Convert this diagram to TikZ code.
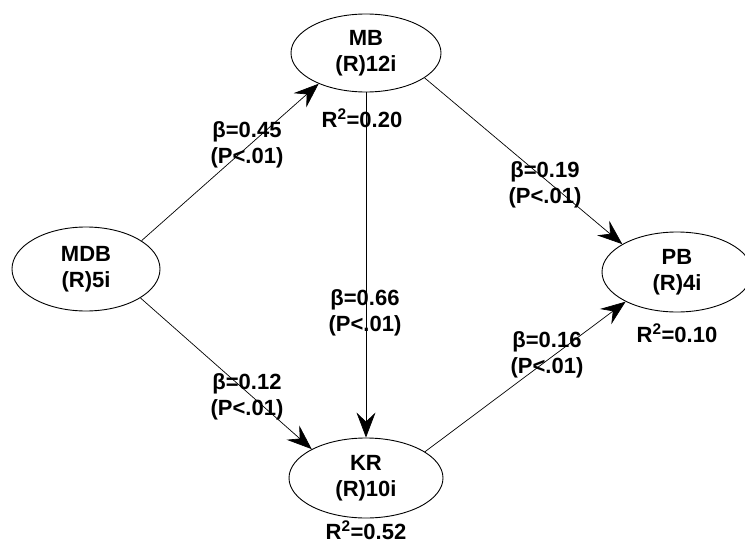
\documentclass[tikz,border=0pt]{standalone}
\usepackage{fontspec}
\setmainfont{Liberation Sans}
\usepackage{tikz}
\usetikzlibrary{shapes.geometric,arrows.meta}

\begin{document}
\begin{tikzpicture}[x=1pt,y=-1pt,
    latent/.style={draw=black, ellipse, solid, line width=0.9pt, minimum width=150pt, minimum height=80pt, inner sep=0pt, align=center, font=\bfseries\fontsize{22}{26}\selectfont},
    coef/.style={align=center, inner sep=0pt, font=\bfseries\fontsize{22}{26}\selectfont},
    link/.style={draw=black, solid, line width=0.7pt, -{Stealth[length=25pt,width=19pt,inset=9pt]}}]
            \useasboundingbox (0,0) rectangle (745,546);

            \node[latent, minimum width=148pt, minimum height=84pt] (mdb) at (86,269) {MDB\\(R)5i};
            \node[latent, minimum height=78pt] (mb) at (366,53) {MB\\(R)12i};
            \node[latent] (pb) at (677,272) {PB\\(R)4i};
            \node[latent, minimum width=154pt] (kr) at (366,478) {KR\\(R)10i};

            \node[coef] (rsqmb) at (362,118) {R\textsuperscript{2}=0.20};
            \node[coef] (rsqpb) at (677,333) {R\textsuperscript{2}=0.10};
            \node[coef] (rsqkr) at (366,530) {R\textsuperscript{2}=0.52};

            \draw[link] (mdb.27) -- (mb.213);
            \draw[link] (mdb.332) -- (kr.152);
            \draw[link] (mb.south) -- (kr.north);
            \draw[link] (mb.337) -- (pb.153);
            \draw[link] (kr.24) -- (pb.210);

            \node[coef] (bmdbmb) at (247,145) {β=0.45\\(P<.01)};
            \node[coef] (bmdbkr) at (247,397) {β=0.12\\(P<.01)};
            \node[coef] (bmbkr) at (365,313) {β=0.66\\(P<.01)};
            \node[coef] (bmbpb) at (545,185) {β=0.19\\(P<.01)};
            \node[coef] (bkrpb) at (547,355) {β=0.16\\(P<.01)};

        \end{tikzpicture}
\end{document}
